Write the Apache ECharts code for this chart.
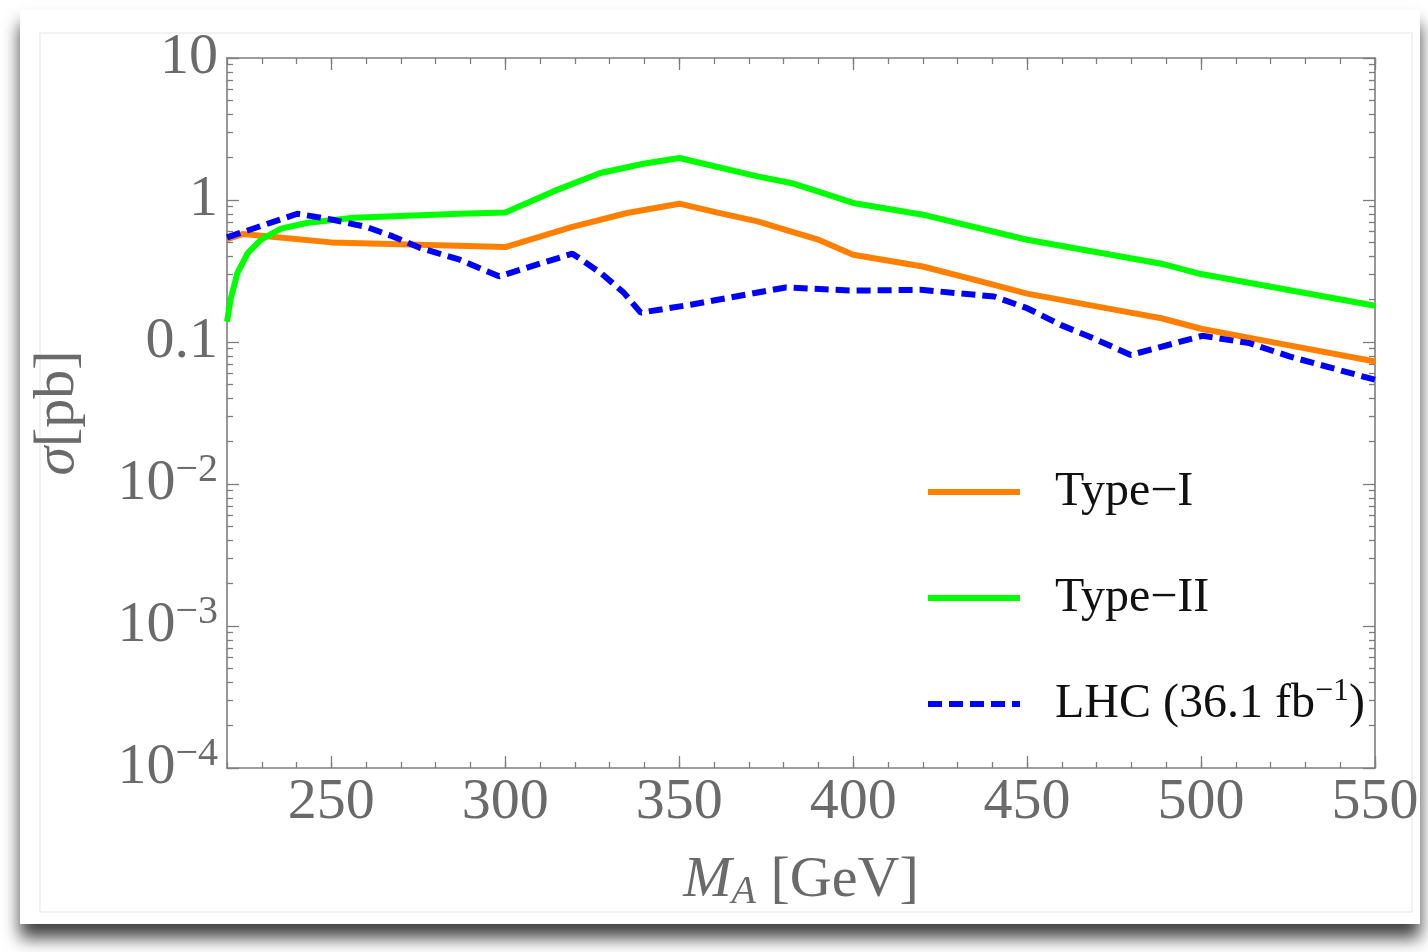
<!DOCTYPE html>
<html>
<head>
<meta charset="utf-8">
<script src="https://cdn.jsdelivr.net/npm/echarts@6/dist/echarts.min.js"></script>
<style>
  html, body { margin: 0; padding: 0; background: #ffffff; }
  #chart { width: 1428px; height: 952px; }
</style>
</head>
<body>
<div id="chart"></div>
<script>
// Cross sections sigma [pb] versus pseudoscalar mass M_A [GeV]

const typeIMass  = [220, 224.5, 250, 300, 319, 335, 350, 361, 372.5, 382, 390, 400, 420, 435, 450, 475, 488.6, 500, 525, 550];
const typeISigma = [0.531, 0.576, 0.503, 0.466, 0.645, 0.810, 0.942, 0.814, 0.707, 0.601, 0.525, 0.412, 0.340, 0.274, 0.219, 0.169, 0.147, 0.124, 0.095, 0.0729];

const typeIIMass  = [220, 221, 223, 226, 229.8, 235.5, 243.2, 256.5, 286.8, 300, 313.8, 327.3, 339.7, 350, 372.5, 382.1, 389.8, 400, 420, 450, 488.6, 500, 550];
const typeIISigma = [0.139, 0.198, 0.307, 0.425, 0.525, 0.628, 0.692, 0.750, 0.800, 0.818, 1.150, 1.549, 1.80, 1.977, 1.467, 1.318, 1.150, 0.953, 0.788, 0.525, 0.356, 0.301, 0.180];

const lhcMass  = [220, 240.2, 250.4, 260.2, 267.7, 275.4, 286.9, 298.2, 319.3, 327.4, 334.1, 338.9, 353.3, 380.6, 400, 419.5, 440.5, 450, 459.6, 469.1, 479.8, 500.4, 513.9, 525.4, 550];
const lhcSigma = [0.545, 0.800, 0.726, 0.645, 0.554, 0.461, 0.380, 0.290, 0.419, 0.307, 0.222, 0.161, 0.183, 0.242, 0.230, 0.233, 0.209, 0.173, 0.132, 0.106, 0.0811, 0.1106, 0.0982, 0.0791, 0.0542];

const seriesNames = ['Type\u2212I', 'Type\u2212II', 'LHC (36.1 fb\u22121)'];
// legend captions with the exponent set as a superscript
const legendCaptions = {
  'Type\u2212I': 'Type\u2212I',
  'Type\u2212II': 'Type\u2212II',
  'LHC (36.1 fb\u22121)': 'LHC (36.1 fb{s|\u22121}{t|)}'
};

const massMin = 220, massMax = 550;
const massMajorTicks = [250, 300, 350, 400, 450, 500, 550];
const sigmaMin = 1e-4, sigmaMax = 10;
const sigmaMajorTicks = [1e-4, 1e-3, 1e-2, 0.1, 1, 10];
const sigmaDecadeLabels = { '10': '10', '1': '1', '0.1': '0.1', '0.01': '{b|10}{s|\u22122}', '0.001': '{b|10}{s|\u22123}', '0.0001': '{b|10}{s|\u22124}' };

// minor tick positions: every 10 GeV, and 2..9 within each decade
const massMinorTicks = [];
for (let m = massMin; m <= massMax; m += 10) massMinorTicks.push(m);
const sigmaMinorTicks = [];
for (let e = -4; e < 1; e++) {
  for (let k = 2; k <= 9; k++) sigmaMinorTicks.push(+(k * Math.pow(10, e)).toPrecision(3));
}

function pairs(xs, ys) { return xs.map((x, i) => [x, ys[i]]); }

const serif = '"Liberation Serif", "DejaVu Serif", serif';
const frameColor = '#7d7d7d';
const labelColor = '#6a6a6a';

const grid = { left: 227, right: 53, top: 58, bottom: 184 };

function xAxisOf(position, ticks, len, withLabels, withLine) {
  return {
    type: 'value', position: position, min: massMin, max: massMax,
    axisLine: { show: withLine, onZero: false, lineStyle: { color: frameColor, width: 1.6 } },
    axisTick: { show: true, inside: true, length: len, customValues: ticks, lineStyle: { color: frameColor, width: 1.3 } },
    axisLabel: withLabels ? {
      show: true, customValues: massMajorTicks, margin: 6,
      fontFamily: serif, fontSize: 58, color: labelColor
    } : { show: false },
    splitLine: { show: false },
    nameLocation: 'middle'
  };
}

function yAxisOf(position, ticks, len, withLabels, withLine) {
  return {
    type: 'log', logBase: 10, position: position, min: sigmaMin, max: sigmaMax,
    axisLine: { show: withLine, onZero: false, lineStyle: { color: frameColor, width: 1.6 } },
    axisTick: { show: true, inside: true, length: len, customValues: ticks, lineStyle: { color: frameColor, width: 1.3 } },
    axisLabel: withLabels ? {
      show: true, margin: 9,
      formatter: v => sigmaDecadeLabels[String(+v.toPrecision(3))] || '',
      fontFamily: serif, fontSize: 58, color: labelColor,
      rich: {
        b: { fontFamily: serif, fontSize: 58, color: labelColor },
        s: { fontFamily: serif, fontSize: 40, color: labelColor, verticalAlign: 'top', padding: [0, 0, 28, 0] }
      }
    } : { show: false },
    splitLine: { show: false },
    minorTick: { show: false }
  };
}

const xAxes = [
  xAxisOf('bottom', massMajorTicks, 12, true, true),
  xAxisOf('bottom', massMinorTicks, 6, false, false),
  xAxisOf('top', massMajorTicks, 12, false, true),
  xAxisOf('top', massMinorTicks, 6, false, false)
];
Object.assign(xAxes[0], {
  name: '{i|M}{sub|A}{n| [GeV]}', nameGap: 82,
  nameTextStyle: {
    rich: {
      i: { fontFamily: serif, fontStyle: 'italic', fontSize: 58, color: labelColor },
      sub: { fontFamily: serif, fontStyle: 'italic', fontSize: 40, color: labelColor, verticalAlign: 'bottom', padding: [22, 0, 0, 0] },
      n: { fontFamily: serif, fontSize: 58, color: labelColor }
    }
  }
});

const yAxes = [
  yAxisOf('left', sigmaMajorTicks, 12, true, true),
  yAxisOf('left', sigmaMinorTicks, 6, false, false),
  yAxisOf('right', sigmaMajorTicks, 12, false, true),
  yAxisOf('right', sigmaMinorTicks, 6, false, false)
];
Object.assign(yAxes[0], {
  name: '{i|\u03c3}{n|[pb]}', nameLocation: 'middle', nameRotate: 90, nameGap: 140,
  nameTextStyle: {
    rich: {
      i: { fontFamily: serif, fontStyle: 'italic', fontSize: 58, color: labelColor },
      n: { fontFamily: serif, fontSize: 58, color: labelColor }
    }
  }
});

const lineWidth = 6;

const option = {
  animation: false,
  backgroundColor: '#ffffff',
  graphic: [
    {
      type: 'rect', z: -10, silent: true,
      shape: { x: 20, y: 10, width: 1400, height: 914 },
      style: { fill: '#ffffff', shadowBlur: 16, shadowOffsetY: 14, shadowOffsetX: 0, shadowColor: 'rgba(0,0,0,0.75)' }
    },
    {
      type: 'rect', z: -9, silent: true,
      shape: { x: 40, y: 33, width: 1372, height: 879 },
      style: { fill: 'none', stroke: '#eeeeee', lineWidth: 1.5 }
    }
  ],
  grid: grid,
  xAxis: xAxes,
  yAxis: yAxes,
  legend: {
    show: true,
    orient: 'vertical', left: 925, top: 464, padding: 0,
    itemWidth: 92, itemHeight: 14, itemGap: 50,
    itemStyle: { opacity: 0 },
    lineStyle: { width: 6 },
    formatter: name => legendCaptions[name] || name,
    textStyle: {
      fontFamily: serif, fontSize: 48, color: '#111111', lineHeight: 56, padding: [0, 0, 0, 30],
      rich: {
        s: { fontFamily: serif, fontSize: 32, color: '#111111', verticalAlign: 'top', padding: [0, 0, 22, 0] },
        t: { fontFamily: serif, fontSize: 48, color: '#111111' }
      }
    },
    data: seriesNames
  },
  series: [
    {
      name: seriesNames[0], type: 'line', xAxisIndex: 0, yAxisIndex: 0,
      data: pairs(typeIMass, typeISigma), showSymbol: false, symbol: 'none',
      lineStyle: { color: '#ff8000', width: lineWidth, join: 'round' }, itemStyle: { color: '#ff8000' }, z: 3
    },
    {
      name: seriesNames[1], type: 'line', xAxisIndex: 0, yAxisIndex: 0,
      data: pairs(typeIIMass, typeIISigma), showSymbol: false, symbol: 'none',
      lineStyle: { color: '#00ff00', width: lineWidth, join: 'round' }, itemStyle: { color: '#00ff00' }, z: 3
    },
    {
      name: seriesNames[2], type: 'line', xAxisIndex: 0, yAxisIndex: 0,
      data: pairs(lhcMass, lhcSigma), showSymbol: false, symbol: 'none',
      lineStyle: { color: '#0000ff', width: lineWidth, type: [14, 7] }, itemStyle: { color: '#0000ff' }, z: 4
    }
  ]
};

const chart = echarts.init(document.getElementById('chart'), null, { renderer: 'canvas' });
chart.setOption(option);
</script>
</body>
</html>
